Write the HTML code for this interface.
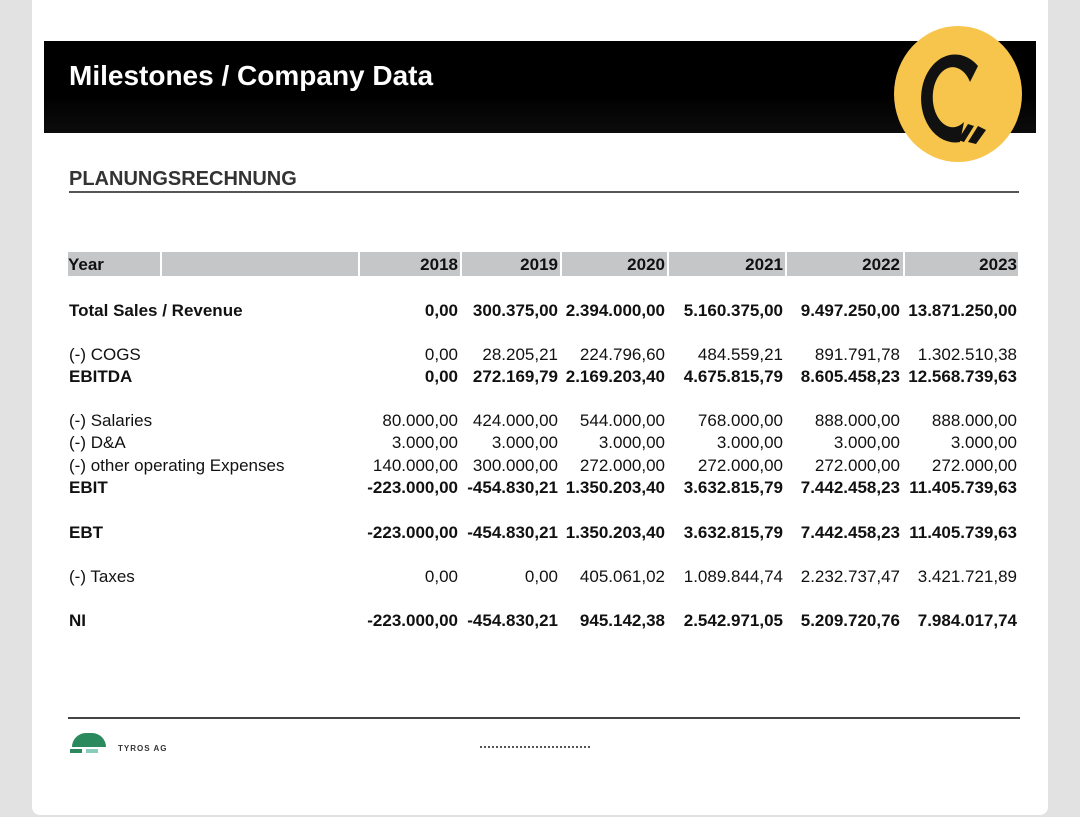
<!DOCTYPE html>
<html><head><meta charset="utf-8"><style>
body{margin:0;width:1080px;height:817px;background:#e2e2e2;position:relative;overflow:hidden;font-family:"Liberation Sans",Arial,sans-serif;}
.card{position:absolute;left:32px;top:-10px;width:1016px;height:825px;background:#fff;border-radius:8px;}
.band{position:absolute;left:44px;top:41px;width:992px;height:92px;background:linear-gradient(#000 60%,#0c0c0c);}
.title{position:absolute;left:69px;top:60px;color:#fff;font-weight:bold;font-size:28px;}
.circ{position:absolute;left:894px;top:26px;width:128px;height:136px;border-radius:50%;background:#f8c54c;}
.sec{position:absolute;left:69px;top:168px;font-weight:bold;font-size:20px;color:#333;}
.line{position:absolute;left:69px;top:191px;width:950px;height:2px;background:#555;}
.hd{position:absolute;top:252px;height:24px;background:#c4c6c8;}
.t{position:absolute;font-size:17px;color:#111;white-space:nowrap;line-height:18px;}
.b{font-weight:bold}
.r{text-align:right}
</style></head><body>
<div class="card"></div>
<div class="band"></div>
<div class="title">Milestones / Company Data</div>
<div class="circ"></div>
<svg style="position:absolute;left:894px;top:26px" width="128" height="136">
<path d="M84 40 A34 44 0 1 0 66 116 L70 96 A20 30 0 1 1 76 56 Z" fill="#111"/>
<path d="M64 114 L74 98 L80 100 L70 116Z M74 116 L84 100 L92 104 L82 118Z" fill="#111"/>
</svg>
<div class="sec">PLANUNGSRECHNUNG</div>
<div class="line"></div>
<div class="hd" style="left:68px;width:92px"></div>
<div class="hd" style="left:162px;width:196px"></div>
<div class="hd" style="left:360px;width:100px"></div>
<div class="hd" style="left:462px;width:98px"></div>
<div class="hd" style="left:562px;width:105px"></div>
<div class="hd" style="left:669px;width:116px"></div>
<div class="hd" style="left:787px;width:116px"></div>
<div class="hd" style="left:905px;width:113px"></div>
<div class="t b" style="left:68px;top:256px">Year</div>
<div id="rows"></div>
<script>
const ends=[458,558,665,783,900,1017];
function row(y,label,vals,lb,vb){
 let h='<div class="t'+(lb?' b':'')+'" style="left:69px;top:'+(y-9)+'px">'+label+'</div>';
 vals.forEach((v,i)=>{if(v!=='')h+='<div class="t r'+(vb?' b':'')+'" style="right:'+(1080-ends[i])+'px;top:'+(y-9)+'px">'+v+'</div>';});
 return h;}
let H='';
H+=row(265,'',['2018','2019','2020','2021','2022','2023'],true,true);
H+=row(311,'Total Sales / Revenue',['0,00','300.375,00','2.394.000,00','5.160.375,00','9.497.250,00','13.871.250,00'],true,true);
H+=row(355,'(-) COGS',['0,00','28.205,21','224.796,60','484.559,21','891.791,78','1.302.510,38'],false,false);
H+=row(377,'EBITDA',['0,00','272.169,79','2.169.203,40','4.675.815,79','8.605.458,23','12.568.739,63'],true,true);
H+=row(421,'(-) Salaries',['80.000,00','424.000,00','544.000,00','768.000,00','888.000,00','888.000,00'],false,false);
H+=row(443,'(-) D&amp;A',['3.000,00','3.000,00','3.000,00','3.000,00','3.000,00','3.000,00'],false,false);
H+=row(466,'(-) other operating Expenses',['140.000,00','300.000,00','272.000,00','272.000,00','272.000,00','272.000,00'],false,false);
H+=row(488,'EBIT',['-223.000,00','-454.830,21','1.350.203,40','3.632.815,79','7.442.458,23','11.405.739,63'],true,true);
H+=row(533,'EBT',['-223.000,00','-454.830,21','1.350.203,40','3.632.815,79','7.442.458,23','11.405.739,63'],true,true);
H+=row(577,'(-) Taxes',['0,00','0,00','405.061,02','1.089.844,74','2.232.737,47','3.421.721,89'],false,false);
H+=row(621,'NI',['-223.000,00','-454.830,21','945.142,38','2.542.971,05','5.209.720,76','7.984.017,74'],true,true);
document.getElementById('rows').innerHTML=H;
</script>
<div style="position:absolute;left:68px;top:717px;width:952px;height:2px;background:#444"></div>
<div style="position:absolute;left:72px;top:733px;width:34px;height:14px;border-radius:17px 17px 0 0;background:#2a8a5e"></div>
<div style="position:absolute;left:70px;top:749px;width:12px;height:4px;background:#2a8a5e"></div>
<div style="position:absolute;left:86px;top:749px;width:12px;height:4px;background:#8cb"></div>
<div style="position:absolute;left:118px;top:744px;font-size:8px;font-weight:bold;color:#333;letter-spacing:1px">TYROS AG</div>
<div style="position:absolute;left:480px;top:746px;width:110px;height:2px;border-top:2px dotted #555"></div>
</body></html>
